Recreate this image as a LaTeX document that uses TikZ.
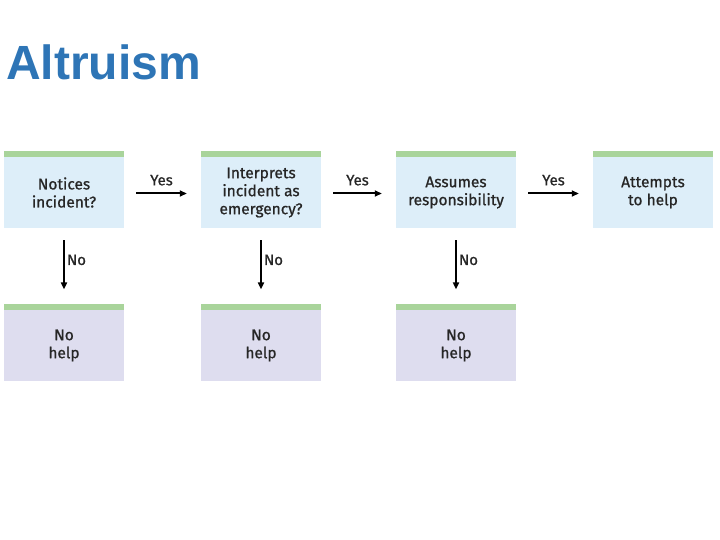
\documentclass[tikz,border=0pt]{standalone}
\usepackage{fontspec}
\setmainfont{Fira Sans}
\newfontfamily\boxfont{Fira Sans}[FakeBold=0.8]
\newfontfamily\titlefont{Liberation Sans}
\usetikzlibrary{arrows.meta}
\definecolor{titleblue}{HTML}{2E75B6}
\definecolor{boxblue}{HTML}{DDEEF9}
\definecolor{boxlav}{HTML}{DEDDEF}
\definecolor{bargreen}{HTML}{A9D49B}
\begin{document}
\begin{tikzpicture}[x=1pt,y=-1pt,
  qbox/.style={fill=boxblue, minimum width=120pt, minimum height=71pt, inner sep=0pt, align=center, font=\boxfont\fontsize{15.5}{18}\selectfont, text=black!85},
  nbox/.style={fill=boxlav, minimum width=120pt, minimum height=71pt, inner sep=0pt, align=center, font=\boxfont\fontsize{15.5}{18}\selectfont, text=black!85},
  gbar/.style={fill=bargreen, minimum width=120pt, minimum height=6pt, inner sep=0pt},
  flow/.style={-{Triangle[length=7pt,width=6pt]}, line width=2pt},
  lab/.style={font=\boxfont\fontsize{15}{16}\selectfont, text=black!85, inner sep=1pt}]
\useasboundingbox (0,0) rectangle (720,540);
\node[anchor=base west, font=\titlefont\bfseries\fontsize{48}{50}\selectfont, text=titleblue, inner sep=0pt] (title) at (6,80) {Altruism};
% top row
\node[qbox] (q1) at (64,192.5) {Notices\\incident?};
\node[qbox] (q2) at (261,192.5) {Interprets\\incident as\\emergency?};
\node[qbox] (q3) at (456,192.5) {Assumes\\responsibility};
\node[qbox] (q4) at (653,192.5) {Attempts\\to help};
\foreach \n in {q1,q2,q3,q4} \node[gbar, anchor=south] (\n bar) at (\n.north) {};
% bottom row
\node[nbox] (n1) at (64,345.5) {No\\help};
\node[nbox] (n2) at (261,345.5) {No\\help};
\node[nbox] (n3) at (456,345.5) {No\\help};
\foreach \n in {n1,n2,n3} \node[gbar, anchor=south] (\n bar) at (\n.north) {};
% yes arrows
\foreach \a/\b in {q1/q2,q2/q3,q3/q4} {
  \draw[flow] ([xshift=12pt,yshift=-1pt]\a.east) -- ([xshift=-14pt,yshift=-1pt]\b.west)
    node[midway, above=6pt, lab] {Yes};
}
% no arrows
\foreach \a/\b in {q1/n1,q2/n2,q3/n3} {
  \draw[flow] ([yshift=-12pt]\a.south) -- ([yshift=14pt]\b bar.north)
    node[pos=0.4, right=1pt, lab] {No};
}
\end{tikzpicture}
\end{document}
